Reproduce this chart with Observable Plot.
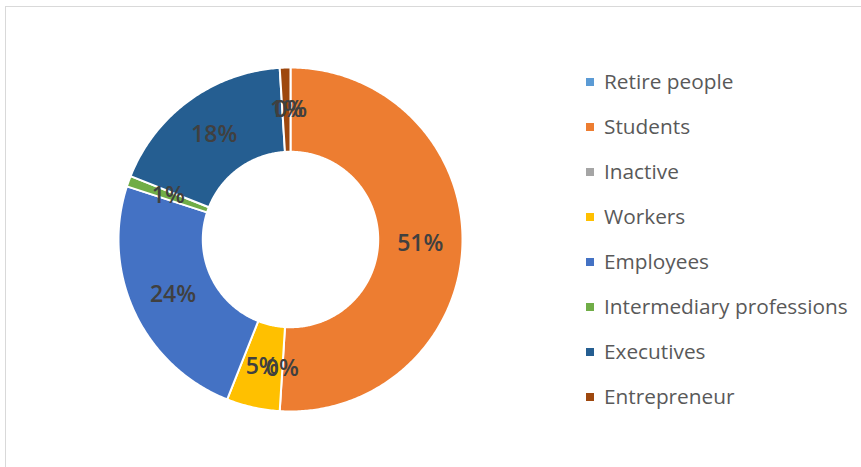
<!DOCTYPE html>
<html>
<head>
<meta charset="utf-8">
<script src="https://cdn.jsdelivr.net/npm/d3@7"></script>
<script src="https://cdn.jsdelivr.net/npm/@observablehq/plot@0.6"></script>
<style>
  html, body { margin: 0; padding: 0; background: #fff; }
  #wrap { position: relative; width: 861px; height: 467px; overflow: hidden; }
  #frame { position: absolute; left: 5px; top: 6px; width: 900px; height: 500px;
           border-top: 1.5px solid #d9d9d9; border-left: 1.5px solid #d9d9d9; box-sizing: border-box; }
  #chart { position: absolute; left: 0; top: 0; }
  #legend { position: absolute; left: 586px; top: 68px; font-family: "Open Sans", sans-serif;
            font-size: 20.8px; color: #595959; }
  .item { position: absolute; left: 0; white-space: nowrap; height: 28px; line-height: 28px; }
  .sw { position: absolute; left: 0; top: 10px; width: 8px; height: 8px; }
  .lab { position: absolute; left: 18px; top: -1px; }
</style>
</head>
<body>
<div id="wrap">
  <div id="frame"></div>
  <div id="chart"></div>
  <div id="legend"></div>
</div>
<script>
const categories = ["Retire people", "Students", "Inactive", "Workers", "Employees", "Intermediary professions", "Executives", "Entrepreneur"];
const values = [0, 51, 0, 5, 24, 1, 18, 1];
const colors = ["#5B9BD5", "#ED7D31", "#A5A5A5", "#FFC000", "#4472C4", "#70AD47", "#255E91", "#9E480E"];

const innerR = 0.51, outerR = 1, labelR = (innerR + outerR) / 2;
const total = d3.sum(values);
const pie = d3.pie().sort(null).value(d => d.value).startAngle(0).endAngle(2 * Math.PI);
const arcs = pie(categories.map((c, i) => ({category: c, value: values[i]})));

// polygon points for each ring slice (angle clockwise from 12 o'clock)
const pts = [];
for (const a of arcs) {
  if (a.data.value === 0) continue;
  const n = Math.max(2, Math.ceil((a.endAngle - a.startAngle) / 0.01));
  for (let k = 0; k <= n; k++) {
    const t = a.startAngle + (a.endAngle - a.startAngle) * k / n;
    pts.push({category: a.data.category, x: outerR * Math.sin(t), y: outerR * Math.cos(t)});
  }
  for (let k = n; k >= 0; k--) {
    const t = a.startAngle + (a.endAngle - a.startAngle) * k / n;
    pts.push({category: a.data.category, x: innerR * Math.sin(t), y: innerR * Math.cos(t)});
  }
}
const labels = arcs.map(a => {
  const t = (a.startAngle + a.endAngle) / 2;
  return {category: a.data.category, x: labelR * Math.sin(t), y: labelR * Math.cos(t),
          text: Math.round(a.data.value / total * 100) + "%"};
});

const cx = 290, cy = 239, R = 172;
const plot = Plot.plot({
  width: 861, height: 467,
  margin: 0,
  x: {domain: [-1, 1], range: [cx - R, cx + R], axis: null},
  y: {domain: [-1, 1], range: [cy + R, cy - R], axis: null},
  color: {domain: categories, range: colors},
  style: {background: "transparent"},
  marks: [
    Plot.line(pts, {x: "x", y: "y", z: "category", fill: "category", stroke: "white", strokeWidth: 2, curve: "linear-closed"}),
    Plot.text(labels, {x: "x", y: "y", text: "text", fill: "#404040", fontSize: 23, fontWeight: 600,
      fontFamily: "Open Sans, sans-serif"})
  ]
});
document.getElementById("chart").appendChild(plot);

const legend = document.getElementById("legend");
categories.forEach((c, i) => {
  const it = document.createElement("div");
  it.className = "item";
  it.style.top = (i * 44.97) + "px";
  it.innerHTML = `<span class="sw" style="background:${colors[i]}"></span><span class="lab">${c}</span>`;
  legend.appendChild(it);
});
</script>
</body>
</html>
